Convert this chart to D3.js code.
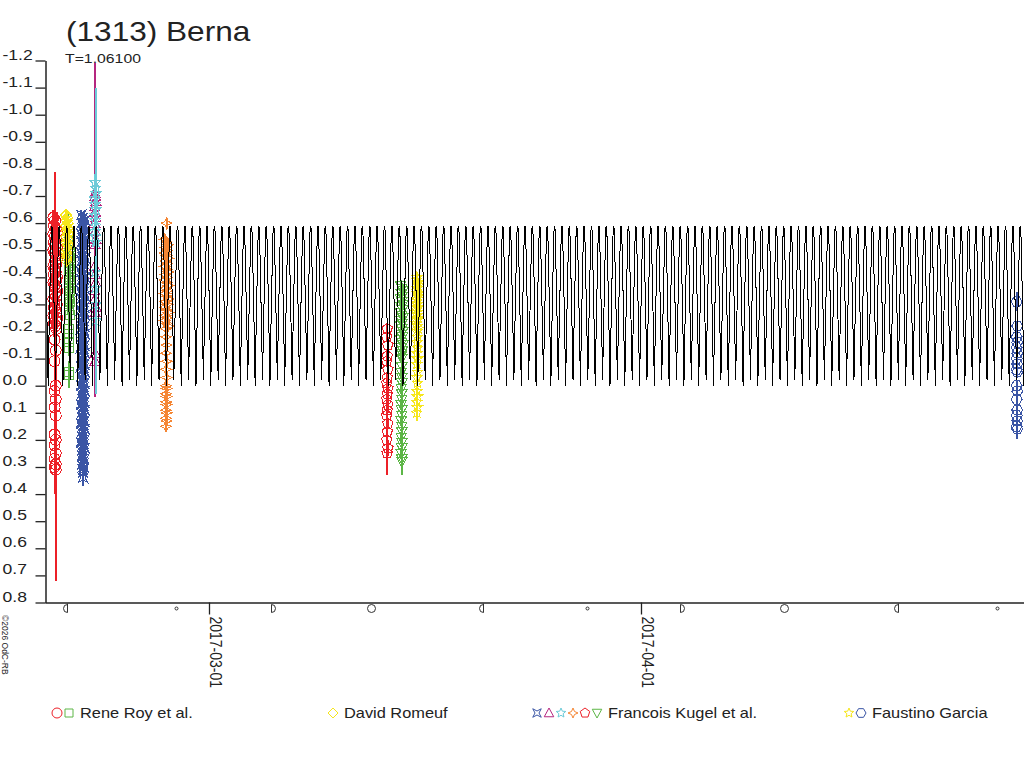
<!DOCTYPE html>
<html>
<head>
<meta charset="utf-8">
<script src="https://cdn.jsdelivr.net/npm/d3@7"></script>
<style>
  body { margin: 0; background: #fff; }
  svg { display: block; font-family: "Liberation Sans", Arial, sans-serif; }
</style>
</head>
<body>
<svg id="chart" width="1024" height="768"></svg>
<script>
// ---- data ----
const title = "(1313) Berna";
const periodLabel = "T=1.06100";
const periodDays = 1.061;
const peakEpoch = "2017-03-22T02:00Z";

// one period of the fitted light curve (phase from a maximum, magnitude)
const modelPhase = [0, 0.03, 0.06, 0.10, 0.15, 0.20, 0.25, 0.30, 0.35, 0.40, 0.44, 0.47,
                    0.50, 0.53, 0.56, 0.60, 0.65, 0.70, 0.75, 0.80, 0.85, 0.90, 0.94, 0.97];
const modelMag   = [-0.59, -0.58, -0.53, -0.43, -0.30, -0.16, 0.00, -0.16, -0.30, -0.43, -0.53, -0.58,
                    -0.59, -0.58, -0.53, -0.43, -0.30, -0.17, -0.02, -0.17, -0.30, -0.43, -0.53, -0.58];

const yTicks = [-1.2, -1.1, -1.0, -0.9, -0.8, -0.7, -0.6, -0.5, -0.4, -0.3, -0.2, -0.1,
                0.0, 0.1, 0.2, 0.3, 0.4, 0.5, 0.6, 0.7, 0.8];
const xTicks = ["2017-03-01T00:00Z", "2017-04-01T00:00Z"];

const moonDates  = ["2017-02-18T19:33Z", "2017-02-26T14:58Z", "2017-03-05T11:32Z", "2017-03-12T14:54Z",
                    "2017-03-20T15:58Z", "2017-03-28T02:57Z", "2017-04-03T18:39Z", "2017-04-11T06:08Z",
                    "2017-04-19T09:57Z", "2017-04-26T12:16Z"];
const moonPhases = ["last", "new", "first", "full", "last", "new", "first", "full", "last", "new"];

const observers = ["Rene Roy et al.", "David Romeuf", "Francois Kugel et al.", "Faustino Garcia"];

// [hours after session start, magnitude, error]
const royCircles = [
  [1,-0.62,0.03],[4,-0.61,0.18],[7,-0.60,0.04],[2,-0.59,0.03],[5,-0.58,0.05],[8,-0.57,0.03],[1,-0.56,0.04],
  [3,-0.55,0.03],[6,-0.54,0.04],[2,-0.53,0.03],[4,-0.52,0.05],[7,-0.51,0.03],[1,-0.50,0.04],[3,-0.49,0.03],
  [6,-0.48,0.04],[8,-0.47,0.05],[4,-0.46,0.03],[6,-0.45,0.04],[1,-0.44,0.03],[3,-0.43,0.05],[5,-0.42,0.04],
  [2,-0.41,0.03],[7,-0.40,0.05],[6,-0.39,0.04],[1,-0.38,0.05],[3,-0.37,0.04],[5,-0.36,0.03],[8,-0.35,0.05],
  [4,-0.34,0.04],[6,-0.33,0.03],[1,-0.32,0.05],[3,-0.31,0.04],[7,-0.30,0.03],[2,-0.29,0.05],[4,-0.28,0.04],
  [6,-0.27,0.03],[1,-0.26,0.05],[8,-0.25,0.04],[5,-0.24,0.03],[2,-0.23,0.05],[4,-0.22,0.04],[6,-0.21,0.05],
  [3,-0.17,0.06],[5,-0.13,0.06],[3,-0.09,0.07],[5,0.00,0.08],[3,0.02,0.07],[5,0.05,0.09],[3,0.08,0.08],
  [5,0.11,0.10],[3,0.18,0.10],[5,0.20,0.12],[3,0.22,0.10],[5,0.25,0.38],[3,0.27,0.12],[5,0.29,0.43],
  [3,0.30,0.10],[5,0.31,0.12]];
const roySquares = [
  [2,-0.55,0.09],[3,-0.52,0.03],[4,-0.51,0.03],[2,-0.50,0.03],[3,-0.48,0.04],[4,-0.47,0.03],[2,-0.46,0.03],
  [3,-0.44,0.03],[4,-0.43,0.04],[2,-0.42,0.04],[3,-0.40,0.03],[4,-0.39,0.03],[2,-0.38,0.03],[3,-0.36,0.04],
  [4,-0.35,0.03],[2,-0.34,0.03],[3,-0.32,0.03],[4,-0.31,0.04],[2,-0.30,0.04],[3,-0.28,0.03],[4,-0.26,0.04],
  [3,-0.21,0.04],[3,-0.19,0.03],[3,-0.16,0.04],[3,-0.14,0.03],[3,-0.05,0.03],[3,-0.04,0.05]];
const romeufDiamonds = [
  [3,-0.63,0.02],[5,-0.62,0.02],[4,-0.61,0.02],[6,-0.60,0.02],[3,-0.59,0.03],[5,-0.58,0.02],[4,-0.57,0.02],
  [6,-0.56,0.02],[3,-0.55,0.03],[5,-0.54,0.02],[4,-0.53,0.02],[6,-0.52,0.02],[3,-0.51,0.03],[5,-0.50,0.02],
  [4,-0.49,0.02],[5,-0.48,0.02],[4,-0.47,0.02],[4,-0.46,0.02]];
const kugelQuad = [
  [1,-0.63,0.02],[4,-0.62,0.02],[7,-0.61,0.02],[2,-0.60,0.03],[5,-0.59,0.02],[3,-0.58,0.02],[6,-0.57,0.03],
  [1,-0.56,0.02],[4,-0.55,0.02],[7,-0.54,0.03],[2,-0.53,0.02],[5,-0.52,0.02],[3,-0.51,0.03],[6,-0.50,0.02],
  [1,-0.49,0.02],[4,-0.48,0.03],[7,-0.47,0.02],[2,-0.46,0.02],[5,-0.45,0.03],[3,-0.44,0.02],[6,-0.43,0.02],
  [1,-0.42,0.03],[4,-0.41,0.02],[7,-0.40,0.02],[2,-0.39,0.03],[5,-0.38,0.02],[3,-0.37,0.02],[6,-0.36,0.03],
  [1,-0.35,0.02],[4,-0.34,0.02],[7,-0.33,0.03],[2,-0.32,0.02],[5,-0.31,0.02],[3,-0.30,0.03],[6,-0.29,0.02],
  [1,-0.28,0.02],[4,-0.27,0.03],[7,-0.26,0.02],[2,-0.25,0.02],[5,-0.24,0.03],[3,-0.23,0.02],[6,-0.22,0.02],
  [1,-0.21,0.03],[4,-0.20,0.02],[7,-0.19,0.02],[2,-0.18,0.03],[5,-0.17,0.02],[3,-0.16,0.02],[6,-0.15,0.03],
  [1,-0.14,0.02],[4,-0.13,0.02],[7,-0.12,0.03],[2,-0.11,0.02],[5,-0.10,0.02],[3,-0.09,0.03],[6,-0.08,0.02],
  [1,-0.07,0.02],[4,-0.06,0.03],[7,-0.05,0.02],[2,-0.04,0.02],[5,-0.03,0.03],[3,-0.02,0.02],[6,-0.01,0.02],
  [1,0.00,0.03],[4,0.01,0.02],[7,0.02,0.02],[2,0.03,0.03],[5,0.04,0.02],[3,0.05,0.02],[6,0.06,0.03],
  [1,0.07,0.02],[4,0.08,0.02],[7,0.09,0.03],[2,0.10,0.02],[5,0.11,0.02],[3,0.12,0.03],[6,0.13,0.02],
  [1,0.14,0.02],[4,0.15,0.03],[7,0.16,0.02],[2,0.17,0.02],[5,0.18,0.03],[3,0.19,0.02],[6,0.20,0.02],
  [1,0.21,0.03],[4,0.22,0.02],[7,0.23,0.02],[2,0.24,0.03],[5,0.25,0.02],[3,0.26,0.02],[6,0.27,0.03],
  [4,0.28,0.02],[3,0.29,0.02],[5,0.30,0.03],[4,0.31,0.02],[4,0.32,0.02],[4,0.34,0.03]];
const kugelTriUp = [
  [2,-0.71,0.03],[2,-0.70,0.49],[3,-0.68,0.03],[1,-0.66,0.04],[2,-0.64,0.03],[3,-0.62,0.03],[1,-0.60,0.04],
  [2,-0.57,0.03],[3,-0.54,0.04],[2,-0.52,0.03],[1,-0.44,0.04],[2,-0.41,0.03],[3,-0.38,0.04],[1,-0.35,0.03],
  [2,-0.32,0.04],[3,-0.29,0.03],[2,-0.27,0.05],[2,-0.12,0.04],[2,-0.09,0.13]];
const kugelStar = [
  [2,-0.75,0.03],[3,-0.73,0.37],[3,-0.71,0.03],[1,-0.69,0.04],[2,-0.67,0.03],[3,-0.65,0.03],[1,-0.63,0.04],
  [2,-0.61,0.03],[3,-0.59,0.03],[1,-0.57,0.04],[2,-0.55,0.03],[3,-0.53,0.03],[2,-0.42,0.04],[2,-0.36,0.04],
  [3,-0.30,0.03],[3,-0.24,0.27]];
const kugelStar4 = [
  [5,-0.60,0.02],[2,-0.54,0.02],[5,-0.53,0.02],[8,-0.52,0.02],[3,-0.51,0.02],[6,-0.50,0.02],[2,-0.49,0.02],
  [5,-0.48,0.02],[8,-0.47,0.02],[3,-0.46,0.02],[6,-0.45,0.02],[2,-0.44,0.02],[5,-0.43,0.02],[8,-0.42,0.02],
  [3,-0.41,0.02],[6,-0.40,0.02],[2,-0.39,0.02],[5,-0.38,0.02],[8,-0.37,0.02],[3,-0.36,0.02],[6,-0.35,0.02],
  [2,-0.34,0.02],[5,-0.33,0.02],[8,-0.32,0.02],[3,-0.31,0.02],[6,-0.30,0.02],[2,-0.29,0.02],[5,-0.28,0.02],
  [8,-0.27,0.02],[3,-0.26,0.02],[6,-0.25,0.02],[2,-0.24,0.02],[5,-0.23,0.02],[8,-0.22,0.02],[4,-0.21,0.02],
  [4,-0.18,0.02],[5,-0.15,0.02],[4,-0.12,0.02],[5,-0.09,0.02],[4,-0.06,0.02],[5,-0.03,0.02],[4,0.00,0.02],
  [5,0.01,0.02],[4,0.03,0.02],[5,0.04,0.02],[4,0.06,0.02],[5,0.07,0.02],[4,0.09,0.02],[5,0.10,0.02],
  [4,0.12,0.02],[5,0.13,0.02],[4,0.15,0.02]];
const kugelPentagon = [
  [3,-0.21,0.02],[2,-0.18,0.02],[4,-0.15,0.03],[3,-0.11,0.02],[2,-0.09,0.02],[4,-0.06,0.03],[3,-0.03,0.02],
  [2,-0.01,0.02],[4,0.01,0.03],[3,0.03,0.02],[2,0.05,0.02],[4,0.07,0.03],[3,0.09,0.02],[2,0.11,0.03],
  [4,0.14,0.02],[3,0.17,0.03],[2,0.20,0.03],[4,0.23,0.03],[3,0.25,0.08]];
const kugelTriDown = [
  [1,-0.37,0.02],[3,-0.36,0.02],[5,-0.35,0.02],[2,-0.34,0.02],[4,-0.33,0.02],[1,-0.32,0.02],[3,-0.31,0.02],
  [5,-0.30,0.02],[2,-0.29,0.02],[4,-0.28,0.02],[1,-0.27,0.02],[3,-0.26,0.02],[5,-0.25,0.02],[2,-0.24,0.02],
  [4,-0.23,0.02],[1,-0.22,0.02],[3,-0.21,0.02],[5,-0.20,0.02],[2,-0.19,0.02],[4,-0.18,0.02],[1,-0.17,0.02],
  [3,-0.16,0.02],[5,-0.15,0.02],[2,-0.14,0.02],[4,-0.13,0.02],[3,-0.12,0.02],[2,-0.11,0.02],[3,-0.10,0.02],
  [3,-0.07,0.02],[2,-0.05,0.02],[3,-0.03,0.02],[3,-0.01,0.02],[2,0.01,0.02],[3,0.03,0.02],[3,0.05,0.02],
  [2,0.07,0.02],[3,0.09,0.02],[3,0.11,0.02],[2,0.13,0.02],[3,0.15,0.02],[3,0.17,0.02],[2,0.19,0.02],
  [3,0.21,0.02],[3,0.23,0.02],[2,0.25,0.02],[3,0.27,0.02],[3,0.28,0.05]];
const garciaStar = [
  [3,-0.40,0.02],[2,-0.39,0.02],[4,-0.38,0.02],[5,-0.37,0.02],[3,-0.36,0.02],[2,-0.35,0.02],[4,-0.34,0.02],
  [5,-0.33,0.02],[3,-0.32,0.02],[2,-0.31,0.02],[4,-0.30,0.02],[5,-0.29,0.02],[3,-0.28,0.02],[2,-0.27,0.02],
  [4,-0.26,0.02],[5,-0.25,0.02],[3,-0.24,0.02],[2,-0.23,0.02],[4,-0.22,0.02],[5,-0.21,0.02],[3,-0.20,0.02],
  [4,-0.18,0.02],[3,-0.16,0.02],[4,-0.14,0.02],[3,-0.12,0.02],[4,-0.10,0.02],[3,-0.08,0.02],[4,-0.05,0.02],
  [3,-0.03,0.02],[4,-0.01,0.02],[3,0.02,0.02],[4,0.04,0.02],[3,0.06,0.02],[4,0.08,0.02],[3,0.10,0.03]];
const garciaHex = [
  [2,-0.31,0.035],[3,-0.22,0.02],[2,-0.18,0.02],[3,-0.16,0.02],[2,-0.14,0.02],[3,-0.12,0.02],[2,-0.10,0.02],
  [3,-0.08,0.02],[2,-0.06,0.02],[3,-0.05,0.02],[2,0.00,0.02],[3,0.02,0.02],[2,0.05,0.02],[3,0.09,0.02],
  [2,0.11,0.02],[3,0.13,0.02],[2,0.15,0.02],[3,0.16,0.035]];

const seriesPoints   = [royCircles, roySquares, romeufDiamonds, kugelQuad, kugelTriUp, kugelStar,
                        kugelStar4, kugelPentagon, kugelTriDown, garciaStar, garciaHex];
const seriesObserver = [0, 0, 1, 2, 2, 2, 2, 2, 2, 3, 3];
const seriesShape    = ["circle", "square", "diamond", "quad", "triUp", "star5",
                        "star4", "pentagon", "triDown", "star5", "hexagon"];
const seriesColor    = ["#ec2028", "#5cb646", "#f6e61c", "#3a55a5", "#b5267f", "#6ccbd8",
                        "#f58634", "#ec2028", "#5cb646", "#f6e61c", "#3a55a5"];
const seriesStart    = ["2017-02-17T19:00Z", "2017-02-18T20:00Z", "2017-02-18T15:00Z", "2017-02-19T19:00Z",
                        "2017-02-20T18:00Z", "2017-02-20T18:00Z", "2017-02-25T18:00Z", "2017-03-13T16:00Z",
                        "2017-03-14T17:00Z", "2017-03-15T19:00Z", "2017-04-27T21:00Z"];

// ---- layout ----
const svg = d3.select("#chart");
const stretch = 1.17;
const plotLeft = 45, plotRight = 1024, plotTop = 60.5, plotBottom = 602.5;

const x = d3.scaleUtc()
  .domain([new Date("2017-02-17T05:34Z"), new Date("2017-04-28T11:37Z")])
  .range([plotLeft, plotRight]);
const y = d3.scaleLinear().domain([-1.2, 0.8]).range([plotTop, plotBottom]);

function stretchedText(g, tx, ty, size, str, extra) {
  return g.append("text")
    .attr("transform", `translate(${tx},${ty}) scale(${stretch},1)` + (extra || ""))
    .attr("font-size", size)
    .attr("fill", "#222")
    .text(str);
}

// symbol outlines
function symbolPath(kind, r) {
  const p = d3.path();
  const poly = (pts) => { pts.forEach((q, i) => i ? p.lineTo(q[0], q[1]) : p.moveTo(q[0], q[1])); p.closePath(); };
  const ring = (n, rad, rot) => d3.range(n).map(i => {
    const a = rot + i * 2 * Math.PI / n;
    return [rad * Math.sin(a), -rad * Math.cos(a)];
  });
  if (kind === "circle") { p.arc(0, 0, r, 0, 2 * Math.PI); }
  else if (kind === "square") { p.rect(-r * 0.8, -r * 0.8, r * 1.6, r * 1.6); }
  else if (kind === "diamond") { poly([[0, -r], [r, 0], [0, r], [-r, 0]]); }
  else if (kind === "quad") {
    const a = r * 0.85, b = r * 0.4;
    poly([[-a, -a], [0, -b], [a, -a], [b, 0], [a, a], [0, b], [-a, a], [-b, 0]]);
  }
  else if (kind === "triUp") { poly([[0, -r], [r * 0.95, r * 0.75], [-r * 0.95, r * 0.75]]); }
  else if (kind === "triDown") { poly([[0, r], [r * 0.95, -r * 0.75], [-r * 0.95, -r * 0.75]]); }
  else if (kind === "star5") {
    const outer = ring(5, r, 0), inner = ring(5, r * 0.45, Math.PI / 5);
    poly(d3.range(5).flatMap(i => [outer[i], inner[i]]));
  }
  else if (kind === "star4") {
    const c = r * 0.3;
    poly([[0, -r], [c, -c], [r, 0], [c, c], [0, r], [-c, c], [-r, 0], [-c, -c]]);
  }
  else if (kind === "pentagon") { poly(ring(5, r, 0)); }
  else if (kind === "hexagon") { poly(ring(6, r, Math.PI / 6)); }
  return p.toString();
}

// ---- observations ----
const obs = svg.append("g").attr("shape-rendering", "crispEdges");
seriesPoints.forEach((pts, s) => {
  const start = +new Date(seriesStart[s]);
  const px = d => x(new Date(start + d[0] * 36e5));
  const g = obs.append("g");
  g.selectAll("line").data(pts).join("line")
    .attr("x1", px).attr("x2", px)
    .attr("y1", d => y(d[1] - d[2])).attr("y2", d => y(d[1] + d[2]))
    .attr("stroke", seriesColor[s]).attr("stroke-width", 2);
  g.selectAll("path").data(pts).join("path")
    .attr("transform", d => `translate(${px(d)},${y(d[1])})`)
    .attr("d", symbolPath(seriesShape[s], 5.5))
    .attr("fill", "none").attr("stroke", seriesColor[s]).attr("stroke-width", 1);
});

// ---- periodic model curve ----
svg.append("clipPath").attr("id", "plot-clip")
  .append("rect").attr("x", plotLeft).attr("y", 0).attr("width", plotRight - plotLeft).attr("height", plotBottom);

const P = periodDays * 864e5;
const epoch = +new Date(peakEpoch);
const [d0, d1] = x.domain().map(Number);
const curvePts = [];
for (let k = Math.floor((d0 - epoch) / P) - 1; k <= Math.ceil((d1 - epoch) / P) + 1; k++) {
  modelPhase.forEach((ph, i) => curvePts.push([epoch + (k + ph) * P, modelMag[i]]));
}
svg.append("path")
  .attr("clip-path", "url(#plot-clip)")
  .attr("d", d3.line().x(d => x(d[0])).y(d => y(d[1]))(curvePts))
  .attr("fill", "none")
  .attr("stroke", "#000")
  .attr("stroke-width", 1)
  .attr("shape-rendering", "crispEdges");

// ---- axes ----
const yAxis = svg.append("g")
  .attr("transform", `translate(${plotLeft + 0.5},0)`)
  .call(d3.axisLeft(y).tickValues(yTicks).tickFormat(v => v.toFixed(1)).tickSize(10).tickSizeOuter(0));
yAxis.select(".domain").attr("stroke", "#222").attr("stroke-width", 1.5);
yAxis.selectAll(".tick line").attr("stroke", "#222").attr("stroke-width", 1.3);
yAxis.selectAll(".tick text")
  .attr("x", 0).attr("dy", 0)
  .attr("text-anchor", "start")
  .attr("transform", `translate(${2 - plotLeft},-1.5) scale(${stretch},1)`)
  .attr("font-family", "Liberation Sans, Arial, sans-serif")
  .attr("font-size", 15).attr("fill", "#222");

const xAxis = svg.append("g")
  .attr("transform", `translate(0,${plotBottom})`)
  .call(d3.axisBottom(x).tickValues(xTicks.map(d => new Date(d)))
    .tickFormat(d3.utcFormat("%Y-%m-%d")).tickSize(12).tickSizeOuter(0));
xAxis.select(".domain").attr("stroke", "#222").attr("stroke-width", 1.5);
xAxis.selectAll(".tick line").attr("stroke", "#222").attr("stroke-width", 1.3);
xAxis.selectAll(".tick text")
  .attr("x", 0).attr("y", 0).attr("dy", 0)
  .attr("text-anchor", "start")
  .attr("transform", `translate(1,14) scale(${stretch},1) rotate(90)`)
  .attr("font-family", "Liberation Sans, Arial, sans-serif")
  .attr("font-size", 14).attr("fill", "#222");

// moon phases along the time axis
function moonPath(phase) {
  const p = d3.path();
  if (phase === "full") p.arc(0, 0, 4, 0, 2 * Math.PI);
  else if (phase === "new") p.arc(0, 0, 1.5, 0, 2 * Math.PI);
  else if (phase === "first") { p.moveTo(0, -4); p.arc(0, 0, 4, -Math.PI / 2, Math.PI / 2); p.closePath(); }
  else { p.moveTo(0, -5); p.lineTo(0, 4); p.arc(0, 0, 4, Math.PI / 2, 3 * Math.PI / 2); }
  return p.toString();
}
svg.append("g").selectAll("path").data(moonDates).join("path")
  .attr("transform", d => `translate(${Math.round(x(new Date(d))) + 0.5},608.5)`)
  .attr("d", (d, i) => moonPath(moonPhases[i]))
  .attr("fill", "none").attr("stroke", "#333").attr("stroke-width", 1);

// ---- titles ----
stretchedText(svg, 66, 41, 27, title);
stretchedText(svg, 65, 63, 13.5, periodLabel);
stretchedText(svg, 1.5, 615, 8.5, "\u00a92026 OdC-RB", " rotate(90)");

// ---- legend ----
const legendFirst = [57, 333, 537, 849];
const legend = svg.append("g");
observers.forEach((name, o) => {
  const members = d3.range(seriesShape.length).filter(s => seriesObserver[s] === o);
  members.forEach((s, j) => {
    legend.append("path")
      .attr("transform", `translate(${legendFirst[o] + j * 12},713)`)
      .attr("d", symbolPath(seriesShape[s], 5))
      .attr("fill", "none").attr("stroke", seriesColor[s]);
  });
  stretchedText(legend, legendFirst[o] + members.length * 12 - 1, 718, 14, name);
});
</script>
</body>
</html>
